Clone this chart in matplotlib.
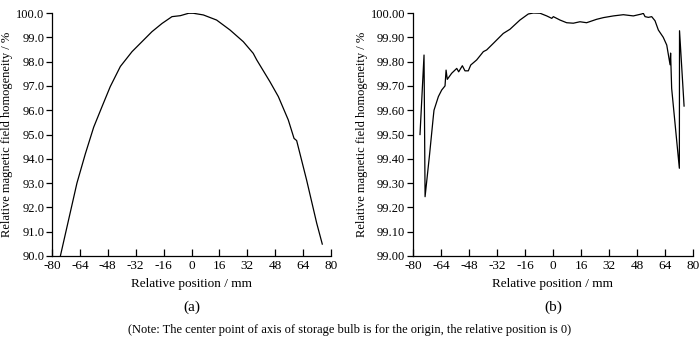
import matplotlib
matplotlib.use("Agg")
import matplotlib.pyplot as plt

plt.rcParams['font.family'] = ['Liberation Serif', 'DejaVu Serif']

# Panel (a)
pos_a = [-75.2, -71.4, -65.7, -60.9, -56.1, -51.3, -46.6, -40.8, -34.1, -28.4, -22.7,
         -16.9, -11.2, -6.4, -1.6, 1.0, 6.8, 14.4, 22.1, 29.7, 35.4, 37.4, 45.0,
         49.8, 55.5, 58.8, 60.3, 66.0, 71.8, 75.0]
val_a = [90.00, 91.20, 93.00, 94.20, 95.30, 96.15, 96.97, 97.80, 98.41, 98.82, 99.23,
         99.57, 99.85, 99.89, 99.99, 99.99, 99.92, 99.71, 99.30, 98.82, 98.34, 98.07, 97.17,
         96.56, 95.60, 94.84, 94.75, 93.13, 91.35, 90.49]

# Panel (b)
pos_b = [-76.0, -73.7, -73.1, -70.5, -68.4, -68.0, -65.5, -63.6, -61.7, -61.1, -60.4,
         -57.9, -55.0, -53.9, -51.8, -50.3, -48.4, -47.0, -43.6, -39.8, -37.9, -34.1,
         -28.4, -24.6, -18.9, -14.1, -11.2, -7.4, -3.6, -0.7, 0.2, 4.0, 7.8, 11.6,
         15.4, 19.2, 24.9, 28.8, 34.5, 40.2, 45.9, 50.7, 51.6, 52.6, 54.5, 56.4,
         58.3, 60.2, 63.0, 65.0, 66.9, 67.2, 67.8, 72.2, 72.3, 74.9]
val_b = [99.50, 99.827, 99.244, 99.42, 99.573, 99.600, 99.656, 99.683, 99.700, 99.765, 99.727,
         99.752, 99.772, 99.758, 99.783, 99.762, 99.762, 99.786, 99.807, 99.841, 99.848, 99.875,
         99.916, 99.933, 99.971, 99.996, 100.000, 99.999, 99.988, 99.978, 99.985, 99.971, 99.960, 99.958,
         99.964, 99.960, 99.974, 99.981, 99.988, 99.993, 99.988, 99.996, 99.999, 99.985, 99.982, 99.985,
         99.968, 99.930, 99.900, 99.868, 99.787, 99.835, 99.690, 99.361, 99.927, 99.617]

xticks = list(range(-80, 81, 16))
yticks_a = [90 + i for i in range(11)]
yticks_b = [99 + 0.1 * i for i in range(11)]

fig = plt.figure(figsize=(7.0, 3.41), dpi=100)
W, H = 700, 341

def make_ax(x0, x1, y0, y1):
    return fig.add_axes([x0 / W, 1 - y1 / H, (x1 - x0) / W, (y1 - y0) / H])

ax1 = make_ax(52, 331, 13, 256)
ax2 = make_ax(413, 693, 13, 256)

ax1.plot(pos_a, val_a, color='black', lw=0.9)
ax2.plot(pos_b, val_b, color='black', lw=0.9)

for ax, yt, fmt, ylim, lab in [(ax1, yticks_a, '{:.1f}', (90, 100), '(a)'),
                               (ax2, yticks_b, '{:.2f}', (99, 100), '(b)')]:
    ax.set_xlim(-80, 80)
    ax.set_ylim(*ylim)
    ax.set_xticks(xticks)
    ax.set_xticklabels([str(t) for t in xticks])
    ax.set_yticks(yt)
    ax.set_yticklabels([fmt.format(v) for v in yt])
    ax.spines['top'].set_visible(False)
    ax.spines['right'].set_visible(False)
    for s in ('left', 'bottom'):
        ax.spines[s].set_linewidth(0.9)
    ax.tick_params(axis='x', direction='in', length=5, width=0.9, labelsize=9.5, pad=3)
    ax.tick_params(axis='y', direction='out', length=4, width=0.9, labelsize=9, pad=1.5)
    ax.set_xlabel('Relative position / mm', fontsize=9.5, labelpad=4)
    ax.set_ylabel('Relative magnetic field homogeneity / %', fontsize=9, labelpad=2)
    ax.text(0.5, 1 + (13 - 307) / 243, lab, transform=ax.transAxes, ha='center', va='center', fontsize=11)

fig.text(0.5, 1 - 330 / H, '(Note: The center point of axis of storage bulb is for the origin, the relative position is 0)',
         ha='center', va='center', fontsize=9)

fig.savefig('out.png', dpi=100)
